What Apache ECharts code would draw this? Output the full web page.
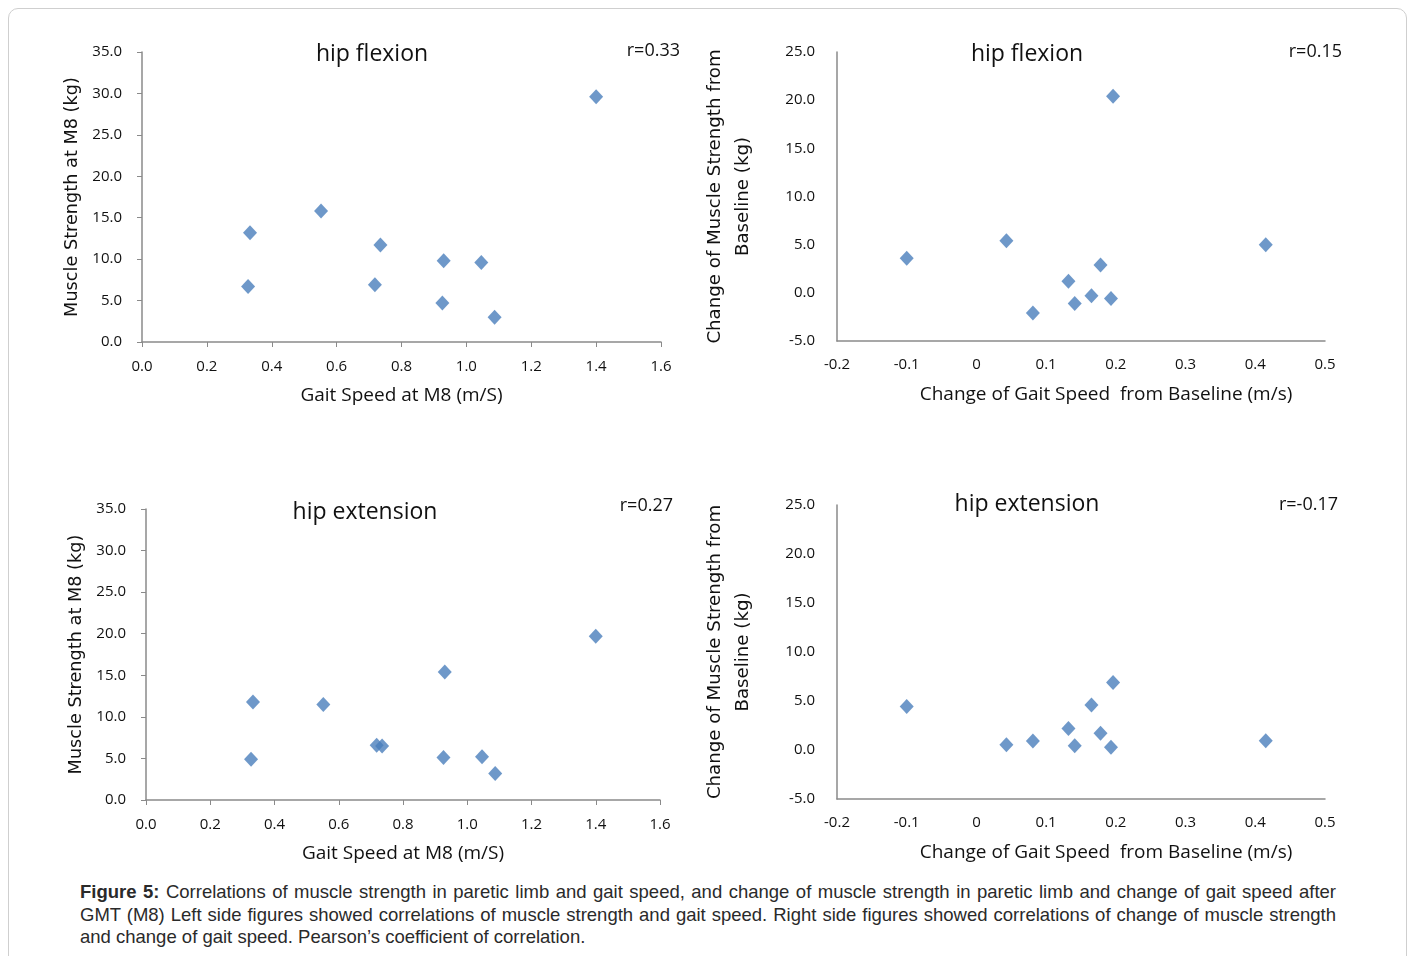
<!DOCTYPE html>
<html>
<head>
<meta charset="utf-8">
<script src="https://cdn.jsdelivr.net/npm/echarts@6/dist/echarts.min.js"></script>
<style>
  html, body { margin: 0; padding: 0; background: #fff; }
  #frame { position: absolute; left: 8px; top: 8px; width: 1399px; height: 980px;
    border: 1.5px solid #cfcfcf; border-radius: 10px; box-sizing: border-box; }
  #main { position: absolute; left: 0; top: 0; width: 1413px; height: 880px; }
  #caption { position: absolute; left: 80px; top: 881px; width: 1256px;
    font-family: "Liberation Sans", Arial, sans-serif; font-size: 18.5px; line-height: 22.5px;
    color: #2a2a2a; }
  #caption span { display: block; white-space: nowrap; }
  #caption span.j { text-align: justify; text-align-last: justify; }
</style>
</head>
<body>
<div id="frame"></div>
<div id="main"></div>
<div id="caption"><span class="j"><b>Figure 5:</b> Correlations of muscle strength in paretic limb and gait speed, and change of muscle strength in paretic limb and change of gait speed after</span><span class="j">GMT (M8) Left side figures showed correlations of muscle strength and gait speed. Right side figures showed correlations of change of muscle strength</span><span>and change of gait speed. Pearson’s coefficient of correlation.</span></div>
<script>
// gait speed at M8 and muscle strength at M8 (left panels)
var gaitM8 = [0.327, 0.333, 0.552, 0.718, 0.735, 0.926, 0.930, 1.046, 1.087, 1.400];
var flexM8 = [6.7, 13.2, 15.8, 6.9, 11.7, 4.7, 9.8, 9.6, 3.0, 29.6];
var extM8  = [4.9, 11.8, 11.5, 6.6, 6.5, 5.1, 15.4, 5.2, 3.2, 19.7];

// change from baseline (right panels)
var dGait = [-0.100, 0.043, 0.081, 0.132, 0.141, 0.165, 0.178, 0.193, 0.196, 0.415];
var dFlex = [3.6, 5.4, -2.1, 1.2, -1.1, -0.3, 2.9, -0.6, 20.4, 5.0];
var dExt  = [4.45, 0.54, 0.92, 2.2, 0.44, 4.6, 1.7, 0.27, 6.9, 0.95];

var titles = ['hip flexion', 'hip flexion', 'hip extension', 'hip extension'];
var rLabels = ['r=0.33', 'r=0.15', 'r=0.27', 'r=-0.17'];

function pairs(xs, ys){
  var out = [];
  for (var i = 0; i < xs.length; i++) out.push([xs[i], ys[i]]);
  return out;
}

var narrow = '"Liberation Sans Narrow", "Open Sans", sans-serif';
var wide = '"DejaVu Sans", Verdana, sans-serif';
var axisColor = '#8a8a8a';
var blue = '#4a7ebb';

var chart = echarts.init(document.getElementById('main'));

var grids = [
  {left: 142, top: 52, width: 519, height: 290},
  {left: 837, top: 52, width: 488, height: 289},
  {left: 146, top: 509, width: 514, height: 291},
  {left: 837, top: 505, width: 488, height: 294}
];

function xAxisLeft(i){
  return {
    gridIndex: i, type: 'value', min: 0, max: 1.6, interval: 0.2,
    name: 'Gait Speed at M8 (m/S)', nameLocation: 'middle', nameGap: 44,
    nameTextStyle: {fontFamily: narrow, fontSize: 19, color: '#111'},
    axisLine: {onZero: false, lineStyle: {color: axisColor, width: 1.5}},
    axisTick: {show: true, length: 5, lineStyle: {color: axisColor}},
    axisLabel: {margin: 17, fontFamily: narrow, fontSize: 15, color: '#111',
      formatter: function(v){ return v.toFixed(1); }},
    splitLine: {show: false}
  };
}
function yAxisLeft(i){
  return {
    gridIndex: i, type: 'value', min: 0, max: 35, interval: 5,
    name: 'Muscle Strength at M8 (kg)', nameLocation: 'middle', nameGap: 61,
    nameTextStyle: {fontFamily: wide, fontSize: 17.7, color: '#111'},
    axisLine: {show: true, onZero: false, lineStyle: {color: axisColor, width: 1.5}},
    axisTick: {show: true, length: 5, lineStyle: {color: axisColor}},
    axisLabel: {margin: 20, fontFamily: narrow, fontSize: 15, color: '#111',
      formatter: function(v){ return v.toFixed(1); }},
    splitLine: {show: false}
  };
}
function xAxisRight(i){
  return {
    gridIndex: i, type: 'value', min: -0.2, max: 0.5, interval: 0.1,
    name: 'Change of Gait Speed  from Baseline (m/s)', nameLocation: 'middle', nameGap: 44,
    nameTextStyle: {fontFamily: narrow, fontSize: 19, color: '#111', padding: [0, 0, 0, 50]},
    axisLine: {onZero: false, lineStyle: {color: axisColor, width: 1.5}},
    axisTick: {show: false},
    axisLabel: {margin: 16, fontFamily: narrow, fontSize: 15, color: '#111',
      formatter: function(v){ return String(Math.round(v * 10) / 10); }},
    splitLine: {show: false}
  };
}
function yAxisRight(i){
  return {
    gridIndex: i, type: 'value', min: -5, max: 25, interval: 5,
    name: 'Change of Muscle Strength from\nBaseline (kg)', nameLocation: 'middle', nameGap: 80,
    nameTextStyle: {fontFamily: wide, fontSize: 18.2, color: '#111', lineHeight: 28},
    axisLine: {show: true, onZero: false, lineStyle: {color: axisColor, width: 1.5}},
    axisTick: {show: false},
    axisLabel: {margin: 22, fontFamily: narrow, fontSize: 15, color: '#111',
      formatter: function(v){ return v.toFixed(1); }},
    splitLine: {show: false}
  };
}

function scatter(i, data){
  return {
    type: 'scatter', xAxisIndex: i, yAxisIndex: i, data: data,
    symbol: 'diamond', symbolSize: [14, 15],
    itemStyle: {color: blue}, silent: true
  };
}

var titlePos = [[372, 54], [1027, 54], [365, 512], [1027, 504]];
var rPos = [[680, 51], [1342, 52], [673, 506], [1338, 505]];
var graphics = [];
for (var k = 0; k < 4; k++) {
  graphics.push({type: 'text', x: titlePos[k][0], y: titlePos[k][1],
    style: {text: titles[k], font: '23px ' + narrow, fill: '#111', align: 'center', verticalAlign: 'middle'}});
  graphics.push({type: 'text', x: rPos[k][0], y: rPos[k][1],
    style: {text: rLabels[k], font: '18px ' + narrow, fill: '#111', align: 'right', verticalAlign: 'middle'}});
}

chart.setOption({
  animation: false,
  backgroundColor: 'transparent',
  grid: grids,
  xAxis: [xAxisLeft(0), xAxisRight(1), xAxisLeft(2), xAxisRight(3)],
  yAxis: [yAxisLeft(0), yAxisRight(1), yAxisLeft(2), yAxisRight(3)],
  series: [
    scatter(0, pairs(gaitM8, flexM8)),
    scatter(1, pairs(dGait, dFlex)),
    scatter(2, pairs(gaitM8, extM8)),
    scatter(3, pairs(dGait, dExt))
  ],
  graphic: graphics
});
</script>
</body>
</html>
